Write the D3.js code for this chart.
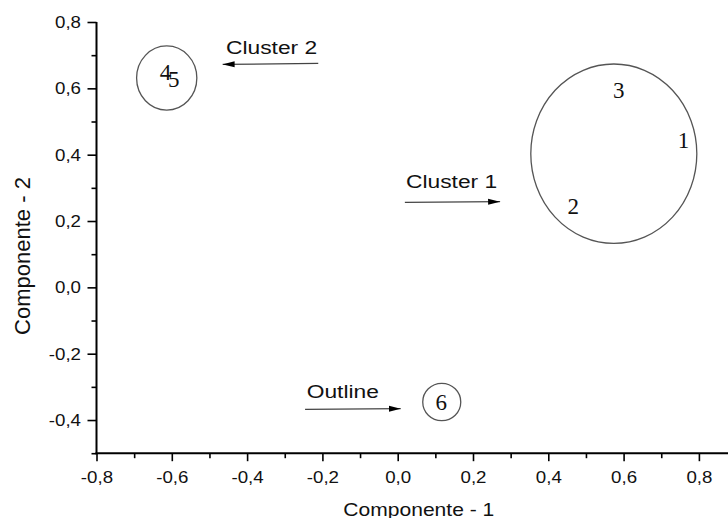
<!DOCTYPE html>
<html>
<head>
<meta charset="utf-8">
<script src="https://cdn.jsdelivr.net/npm/d3@7"></script>
<style>
  html, body { margin: 0; padding: 0; background: #fff; }
  svg { display: block; }
</style>
</head>
<body>
<svg id="chart" width="728" height="518"></svg>
<script>
// ---- data ----
const pointLabels = ["1", "2", "3", "4", "5", "6"];
const pointX = [0.759, 0.466, 0.587, -0.617, -0.595, 0.116];
const pointY = [0.444, 0.245, 0.594, 0.650, 0.627, -0.347];

const clusterNames = ["Cluster 1", "Cluster 2", "Outline"];
const clusterCX = [0.574, -0.6135, 0.117];
const clusterCY = [0.403, 0.631, -0.3456];
const clusterRX = [0.2205, 0.080, 0.0505];
const clusterRY = [0.2704, 0.0968, 0.0564];

// arrow annotations: tail -> tip, and text anchor (start, baseline)
const arrowTailX = [0.019, -0.211, -0.246];
const arrowTailY = [0.2564, 0.6755, -0.3676];
const arrowTipX  = [0.272, -0.465, 0.008];
const arrowTipY  = [0.2582, 0.672, -0.3658];
const labelX = [0.022, -0.456, -0.2417];
const labelY = [0.2986, 0.7035, -0.3345];

const xTicks = [-0.8, -0.6, -0.4, -0.2, 0.0, 0.2, 0.4, 0.6, 0.8];
const xMinor = [-0.7, -0.5, -0.3, -0.1, 0.1, 0.3, 0.5, 0.7, 0.9];
const yTicks = [-0.4, -0.2, 0.0, 0.2, 0.4, 0.6, 0.8];
const yMinor = [-0.5, -0.3, -0.1, 0.1, 0.3, 0.5, 0.7];
const xTitle = "Componente - 1";
const yTitle = "Componente - 2";

// ---- drawing ----
const svg = d3.select("#chart");
const x = d3.scaleLinear().domain([-0.8, 0.9]).range([96.5, 736.55]);
const y = d3.scaleLinear().domain([-0.5, 0.8]).range([453.2, 22]);

const locale = d3.formatLocale({decimal: ",", thousands: ".", grouping: [3], currency: ["", ""], minus: "-"});
const fmt = locale.format(".1f");
const SANS = "'Liberation Sans', Arial, sans-serif";
const SERIF = "'Liberation Serif', 'Times New Roman', serif";
const SX = 1.17; // horizontal stretch of sans text in the reference

svg.append("defs").append("marker")
  .attr("id", "arrow")
  .attr("viewBox", "0 0 12 8")
  .attr("refX", 12).attr("refY", 4)
  .attr("markerWidth", 12).attr("markerHeight", 8)
  .attr("markerUnits", "userSpaceOnUse")
  .attr("orient", "auto")
  .append("path").attr("d", "M0,1 L12,4 L0,7 Z").attr("fill", "#000");

// minor ticks
const gx = svg.append("g").attr("transform", `translate(0,${y(-0.5)})`);
gx.call(d3.axisBottom(x).tickValues(xMinor).tickSize(5).tickFormat(""))
  .call(g => g.select(".domain").remove());
const gy = svg.append("g").attr("transform", `translate(${x(-0.8)},0)`);
gy.call(d3.axisLeft(y).tickValues(yMinor).tickSize(5).tickFormat(""))
  .call(g => g.select(".domain").remove());

// major axes
const ax = svg.append("g").attr("transform", `translate(0,${y(-0.5)})`)
  .call(d3.axisBottom(x).tickValues(xTicks).tickSize(8).tickSizeOuter(0).tickFormat(fmt));
const ay = svg.append("g").attr("transform", `translate(${x(-0.8)},0)`)
  .call(d3.axisLeft(y).tickValues(yTicks).tickSize(9).tickSizeOuter(0).tickFormat(fmt));

svg.selectAll(".tick line").attr("stroke", "#000").attr("stroke-width", 1.6);
[ax, ay].forEach(g => g.select(".domain").attr("stroke", "#000").attr("stroke-width", 2));
ay.select(".domain").attr("d", `M0,${y(0.8)}V${y(-0.5) + 1}`);
ax.select(".domain").attr("d", `M${x(-0.8) - 1},0H${x(0.9)}`);

ax.selectAll(".tick text")
  .attr("font-family", SANS).attr("font-size", 16).attr("fill", "#111")
  .attr("y", 18).attr("dy", "0.71em")
  .attr("transform", `scale(${SX},1)`);
ay.selectAll(".tick text")
  .attr("font-family", SANS).attr("font-size", 16).attr("fill", "#111")
  .attr("x", -15.5 / SX).attr("dy", "0.34em")
  .attr("transform", `scale(${SX},1)`);

// axis titles
svg.append("text")
  .attr("transform", `translate(${(343.3 + 494.3) / 2},516) scale(${SX},1)`)
  .attr("text-anchor", "middle")
  .attr("font-family", SANS).attr("font-size", 18).attr("fill", "#111")
  .text(xTitle);
svg.append("text")
  .attr("transform", `translate(30,256) rotate(-90)`)
  .attr("text-anchor", "middle")
  .attr("font-family", SANS).attr("font-size", 22).attr("fill", "#111")
  .text(yTitle);

// cluster ellipses
svg.append("g").selectAll("ellipse")
  .data(clusterNames.map((n, i) => i))
  .join("ellipse")
  .attr("cx", i => x(clusterCX[i]))
  .attr("cy", i => y(clusterCY[i]))
  .attr("rx", i => x(clusterRX[i]) - x(0))
  .attr("ry", i => y(0) - y(clusterRY[i]))
  .attr("fill", "none").attr("stroke", "#555").attr("stroke-width", 1.3);

// point labels
svg.append("g").selectAll("text")
  .data(pointLabels.map((n, i) => i))
  .join("text")
  .attr("x", i => x(pointX[i]))
  .attr("y", i => y(pointY[i]))
  .attr("dy", "0.34em")
  .attr("text-anchor", "middle")
  .attr("font-family", SERIF).attr("font-size", 23).attr("fill", "#111")
  .text(i => pointLabels[i]);

// arrows
svg.append("g").selectAll("line")
  .data(clusterNames.map((n, i) => i))
  .join("line")
  .attr("x1", i => x(arrowTailX[i])).attr("y1", i => y(arrowTailY[i]))
  .attr("x2", i => x(arrowTipX[i])).attr("y2", i => y(arrowTipY[i]))
  .attr("stroke", "#444").attr("stroke-width", 1.3)
  .attr("marker-end", "url(#arrow)");

svg.append("g").selectAll("text")
  .data(clusterNames.map((n, i) => i))
  .join("text")
  .attr("transform", i => `translate(${x(labelX[i])},${y(labelY[i])}) scale(1.2,1)`)
  .attr("font-family", SANS).attr("font-size", 19).attr("fill", "#111")
  .text(i => clusterNames[i]);
</script>
</body>
</html>
